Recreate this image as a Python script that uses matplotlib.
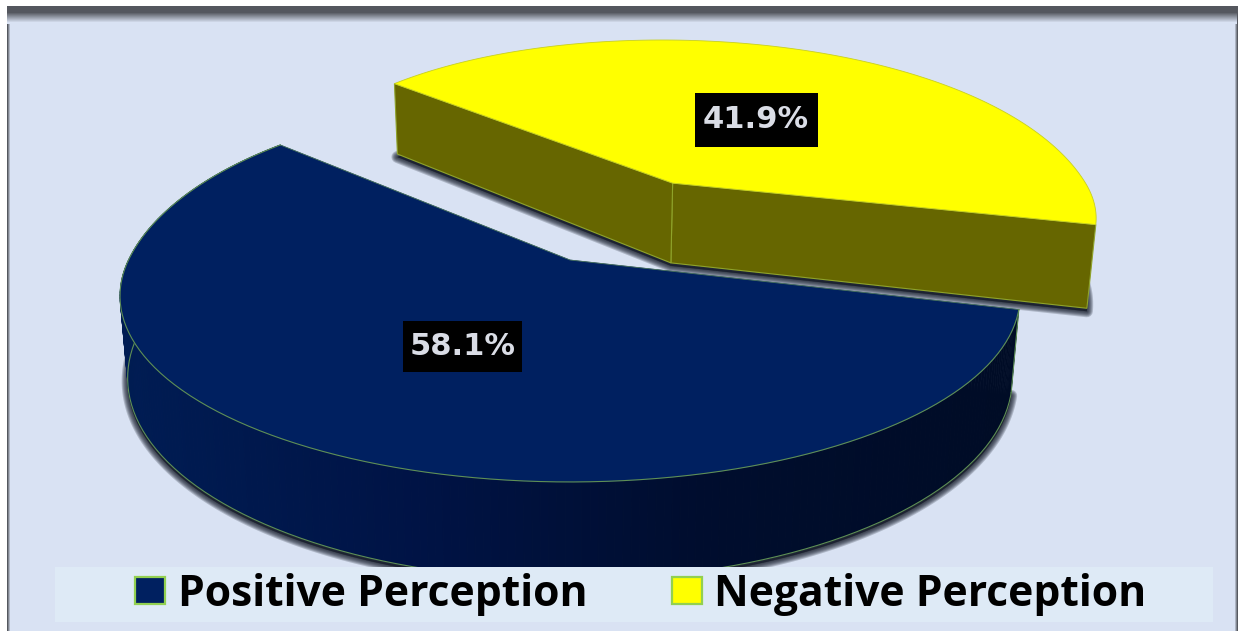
import numpy as np
import matplotlib
matplotlib.use("Agg")
import matplotlib.pyplot as plt
from matplotlib.patches import Patch, Rectangle, Polygon
from matplotlib.collections import PolyCollection
from matplotlib.colors import to_rgb

categories = ["Positive Perception", "Negative Perception"]
values = [58.1, 41.9]
value_labels = ["58.1%", "41.9%"]

# projection of the pie plane onto the page (pixels)
CX, CY = 570.0, 260.0
SX, SY, K = 441.5, 179.0, 0.1935
START = 135.6
EXPLODE = 0.54
BLUE, YELLOW = "#002060", "#FFFF00"
BG = "#D9E2F3"

W, H = 1240, 631
fig = plt.figure(figsize=(W / 100, H / 100), dpi=100, facecolor="white")
ax = fig.add_axes([0, 0, 1, 1])
ax.set_xlim(0, W)
ax.set_ylim(H, 0)
ax.axis("off")


def lerp(c1, c2, t):
    a, b = np.array(to_rgb(c1)), np.array(to_rgb(c2))
    return tuple(a + (b - a) * t)


def project(u, v):
    w = 1 - K * v
    return CX + SX * u / w, CY + SY * v / w, w


def sector(a0, a1, explode=0.0, far=0.0, n=240):
    th = np.radians(np.linspace(a0, a1, n))
    mid = np.radians((a0 + a1) / 2)
    ou, ov = explode * np.cos(mid), -explode * np.sin(mid)
    s = np.sin(th)
    r = 1 + far * np.clip(s, 0, None) ** 2
    return r * np.cos(th) + ou, -r * s + ov, ou, ov


def lower(x, y, w, depth):
    return x - 0.017 * (x - CX), y + depth / w


def shadow(xs, ys, dx=0, dy=3, z=1):
    pts = np.column_stack([xs + dx, ys + dy])
    for lw in [12, 10, 8, 6, 4, 2]:
        ax.add_patch(Polygon(pts, closed=True, facecolor="#141a28", edgecolor="#141a28",
                             lw=lw * 0.72, alpha=0.22, zorder=z, joinstyle="round"))


# frame
ax.add_patch(Rectangle((7, 6), 1230, H - 6, facecolor=BG, edgecolor="none", zorder=0))
for i in range(18):
    t = np.clip((i - 6) / 10, 0, 1)
    ax.add_patch(Rectangle((7, 6 + i), 1230, 1.02, facecolor=lerp("#54575E", BG, t),
                           edgecolor="none", zorder=0.2))
for i in range(4):
    c = lerp("#55585F", BG, i / 3)
    ax.add_patch(Rectangle((7 + i, 6), 1.02, H - 6, facecolor=c, edgecolor="none", zorder=0.1))
    ax.add_patch(Rectangle((1236.5 - i, 6), 1.02, H - 6, facecolor=c, edgecolor="none", zorder=0.1))

# angular extents derived from the values
frac = np.array(values) / np.sum(values) * 360
b0, b1 = START, START + frac[0]
y0, y1 = START - frac[1], START

# ---- negative slice ----
u, v, ou, ov = sector(y0, y1, EXPLODE, far=0.144)
u = u + 0.005
xt, yt, wt = project(u, v)
ax_, ay_, aw_ = project(np.array([ou - 0.015]), np.array([ov]))
DY = 87
xb, yb = lower(xt, yt, wt, DY)
axb, ayb = lower(ax_, ay_, aw_, DY)
shadow(np.r_[xb, axb], np.r_[yb, ayb], z=1)
face_y = "#666600"
edge_y = "#8FA32A"
poly1 = np.array([[xt[0], yt[0]], [ax_[0], ay_[0]], [axb[0], ayb[0]], [xb[0], yb[0]]])
poly2 = np.array([[xt[-1], yt[-1]], [ax_[0], ay_[0]], [axb[0], ayb[0]], [xb[-1], yb[-1]]])
for p in (poly1, poly2):
    ax.add_patch(Polygon(p, closed=True, facecolor=face_y, edgecolor=edge_y, lw=0.8, zorder=2))
ax.add_patch(Polygon(np.column_stack([np.r_[xt, ax_], np.r_[yt, ay_]]), closed=True,
                     facecolor=YELLOW, edgecolor="#C8D020", lw=0.6, zorder=3))

# ---- positive slice ----
u, v, ou, ov = sector(b0, b1, far=0.10)
xt, yt, wt = project(u, v)
ax_, ay_, aw_ = project(np.array([0.0]), np.array([0.0]))
DB = 79
xb, yb = lower(xt, yt, wt, DB)
axb, ayb = lower(ax_, ay_, aw_, DB)
shadow(np.r_[xb, axb], np.r_[yb, ayb], z=4)
quads = [[(xt[i], yt[i]), (xt[i + 1], yt[i + 1]), (xb[i + 1], yb[i + 1]), (xb[i], yb[i])]
         for i in range(len(xt) - 1)]
stops_x = [130, 420, 700, 1010]
stops_c = np.array([to_rgb(c) for c in ["#001C53", "#001345", "#000D2E", "#000C26"]])
cols = np.column_stack([np.interp((xt[:-1] + xt[1:]) / 2, stops_x, stops_c[:, i]) for i in range(3)])
ax.add_collection(PolyCollection(quads, facecolors=cols, edgecolors=cols, linewidths=0.5, zorder=5))
edge_b = "#5F8F55"
ax.plot(xb, yb, color=edge_b, lw=0.8, zorder=5.2)
ax.plot([xt[-1], xb[-1]], [yt[-1], yb[-1]], color=edge_b, lw=0.8, zorder=5.2)
ax.add_patch(Polygon(np.column_stack([np.r_[xt, ax_], np.r_[yt, ay_]]), closed=True,
                     facecolor=BLUE, edgecolor=BLUE, lw=0.5, zorder=6))
ax.plot(xt, yt, color=edge_b, lw=0.8, zorder=6.1)
ax.plot([xt[0], ax_[0], xt[-1]], [yt[0], ay_[0], yt[-1]], color=edge_b, lw=0.6, alpha=0.7, zorder=6.1)

# ---- value labels ----
mids = [(b0 + b1) / 2, (y0 + y1) / 2]
offs = [0.0, EXPLODE]
nudge = [(12, 2), (-6, 6)]
boxes = [(119, 51), (123, 54)]
for lab, m, e, (nx, ny), (bw, bh) in zip(value_labels, mids, offs, nudge, boxes):
    mid = np.radians(m)
    r = 0.5 + e
    lx, ly, _ = project(r * np.cos(mid), -r * np.sin(mid) - (0.07 if e else 0))
    lx, ly = lx + nx, ly + ny
    ax.add_patch(Rectangle((lx - bw / 2, ly - bh / 2), bw, bh, facecolor="black", edgecolor="none", zorder=7.9))
    ax.text(lx, ly, lab, ha="center", va="center", fontsize=22, fontweight="bold",
            family="DejaVu Sans", color="#DADDE6", zorder=8)

# ---- legend ----
ax.add_patch(Rectangle((55, 567), 1158, 55, facecolor="#DEEAF6", edgecolor="none", zorder=7))
handles = [Patch(facecolor=c, edgecolor="#92D050", linewidth=1.6) for c in (BLUE, YELLOW)]
leg = ax.legend(handles, categories, loc="center", bbox_to_anchor=(641, 594),
                bbox_transform=ax.transData, ncols=2, frameon=False,
                prop=dict(family="Open Sans", weight="bold", size=30.7),
                handlelength=0.70, handleheight=0.59, handletextpad=0.30,
                columnspacing=1.97, borderpad=0, borderaxespad=0)
leg.set_zorder(9)

fig.savefig("out.png", dpi=100)
